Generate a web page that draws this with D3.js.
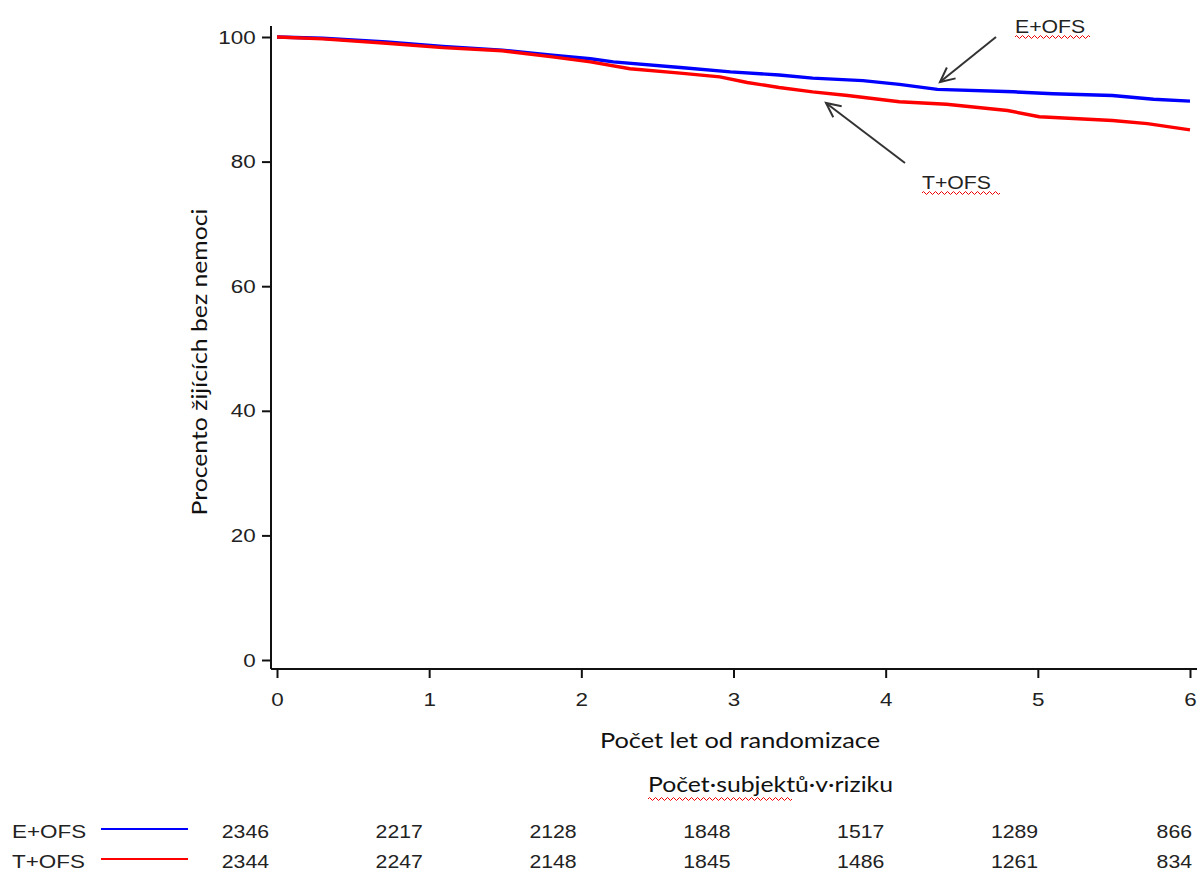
<!DOCTYPE html>
<html><head><meta charset="utf-8">
<script src="https://cdn.jsdelivr.net/npm/d3@7"></script>
<style>body{margin:0;background:#fff}svg{display:block}</style>
</head><body>
<svg id="c" width="1197" height="875"></svg>
<script>
// ---- data ----
const years = [0,1,2,3,4,5,6];
const xTickLabels = ["0","1","2","3","4","5","6"];
const yTicks = [0,20,40,60,80,100];
const groups = ["E+OFS","T+OFS"];
const eofsTime = [0,0.30,0.72,1.09,1.48,1.81,2.06,2.21,2.65,2.98,3.30,3.52,3.85,4.09,4.34,4.84,5.10,5.49,5.76,6.0];
const eofsPct  = [100,99.8,99.2,98.5,97.9,97.1,96.5,96.0,95.1,94.4,93.9,93.4,93.0,92.4,91.6,91.2,90.9,90.6,90.0,89.7];
const tofsTime = [0,0.30,0.72,1.09,1.48,1.81,2.06,2.32,2.65,2.91,3.09,3.30,3.52,3.75,4.09,4.40,4.80,5.01,5.49,5.72,6.0];
const tofsPct  = [100,99.7,99.0,98.3,97.8,96.8,96.0,94.9,94.2,93.6,92.7,91.9,91.2,90.6,89.6,89.2,88.2,87.2,86.6,86.1,85.1];
const eofsRisk = [2346,2217,2128,1848,1517,1289,866];
const tofsRisk = [2344,2247,2148,1845,1486,1261,834];
const colors = ["#0000ff","#ff0000"];

const svg = d3.select("#c");
const x = d3.scaleLinear().domain([0,6]).range([277,1190]);
const y = d3.scaleLinear().domain([0,100]).range([660,37]);
const SX = 1.18; // horizontal stretch of the original image text

// axes
const yAxis = d3.axisLeft(y).tickValues(yTicks).tickSize(9).tickPadding(4);
const gy = svg.append("g").attr("transform","translate(271,0)").call(yAxis);
gy.select(".domain").attr("d","M0,26V669").attr("stroke","#111").attr("stroke-width",2);
gy.selectAll(".tick line").attr("stroke","#111").attr("stroke-width",2);
gy.selectAll(".tick text").attr("font-family","Liberation Sans, Arial, sans-serif").attr("font-size",19).attr("fill","#222")
  .attr("transform",`scale(${SX},1)`);

const xAxis = d3.axisBottom(x).tickValues(years).tickFormat((d,i)=>xTickLabels[i]).tickSize(9).tickPadding(15);
const gx = svg.append("g").attr("transform","translate(0,669)").call(xAxis);
gx.select(".domain").attr("d","M271,0H1197").attr("stroke","#111").attr("stroke-width",2);
gx.selectAll(".tick line").attr("stroke","#111").attr("stroke-width",2);
gx.selectAll(".tick text").attr("font-family","Liberation Sans, Arial, sans-serif").attr("font-size",19).attr("fill","#222")
  .attr("transform",`scale(${SX},1)`);

// curves
const line = d3.line().x(d=>x(d[0])).y(d=>y(d[1]));
const series = [d3.zip(eofsTime,eofsPct), d3.zip(tofsTime,tofsPct)];
series.forEach((s,i)=>{
  svg.append("path").attr("d",line(s)).attr("fill","none").attr("stroke",colors[i]).attr("stroke-width",3.4)
    .attr("stroke-linejoin","round");
});

// helper for stretched text
function stext(tx,ty,str,size,anchor,family,fill){
  return svg.append("text").attr("transform",`translate(${tx},${ty}) scale(${SX},1)`)
    .attr("text-anchor",anchor||"start").attr("font-family",family||"Liberation Sans, Arial, sans-serif")
    .attr("font-size",size).attr("fill",fill||"#222").text(str);
}
function wavy(x0,x1,yy){
  let d=`M${x0},${yy}`; let up=true;
  for(let xx=x0; xx<x1; xx+=3){ d+=`L${xx+1.5},${yy+(up?-1.5:1.5)}L${xx+3},${yy}`; up=!up; }
  svg.append("path").attr("d",d).attr("fill","none").attr("stroke","#e00").attr("stroke-width",1);
}

// axis titles
const TF = "Lato, Open Sans, sans-serif";
stext(740,748,"Počet let od randomizace",21.5,"middle",TF,"#111");
svg.append("text").attr("transform",`translate(207,362) rotate(-90) scale(${SX},1)`).attr("text-anchor","middle")
  .attr("font-family",TF).attr("font-size",21).attr("fill","#111").text("Procento žijících bez nemoci");

// annotations + arrows
function arrow(x1,y1,x2,y2){
  svg.append("line").attr("x1",x1).attr("y1",y1).attr("x2",x2).attr("y2",y2).attr("stroke","#333").attr("stroke-width",2);
  const a=Math.atan2(y2-y1,x2-x1), L=16, w=0.45;
  const p=(ang)=>[x2-L*Math.cos(ang), y2-L*Math.sin(ang)];
  const [ax,ay]=p(a-w),[bx,by]=p(a+w);
  svg.append("path").attr("d",`M${ax},${ay}L${x2},${y2}L${bx},${by}`).attr("fill","none").attr("stroke","#333").attr("stroke-width",2);
}
stext(1015,33,groups[0],18);
wavy(1015,1090,37);
arrow(996,37,940,82);
stext(922,189,groups[1],18);
wavy(922,998,193);
arrow(905,163,826,103);

// risk table
stext(648,792,"Počet·subjektů·v·riziku",21,"start",TF,"#111");
wavy(648,790,799);
const tx = d3.scaleLinear().domain([0,6]).range([269,1192]);
const rows = [eofsRisk, tofsRisk];
const rowY = [838,868];
rows.forEach((r,i)=>{
  stext(12,rowY[i],groups[i],19);
  svg.append("line").attr("x1",101).attr("x2",188).attr("y1",rowY[i]-9).attr("y2",rowY[i]-9)
    .attr("stroke",colors[i]).attr("stroke-width",2);
  r.forEach((v,j)=>{ stext(tx(years[j]),rowY[i],String(v),18,"end"); });
});
</script>
</body></html>
